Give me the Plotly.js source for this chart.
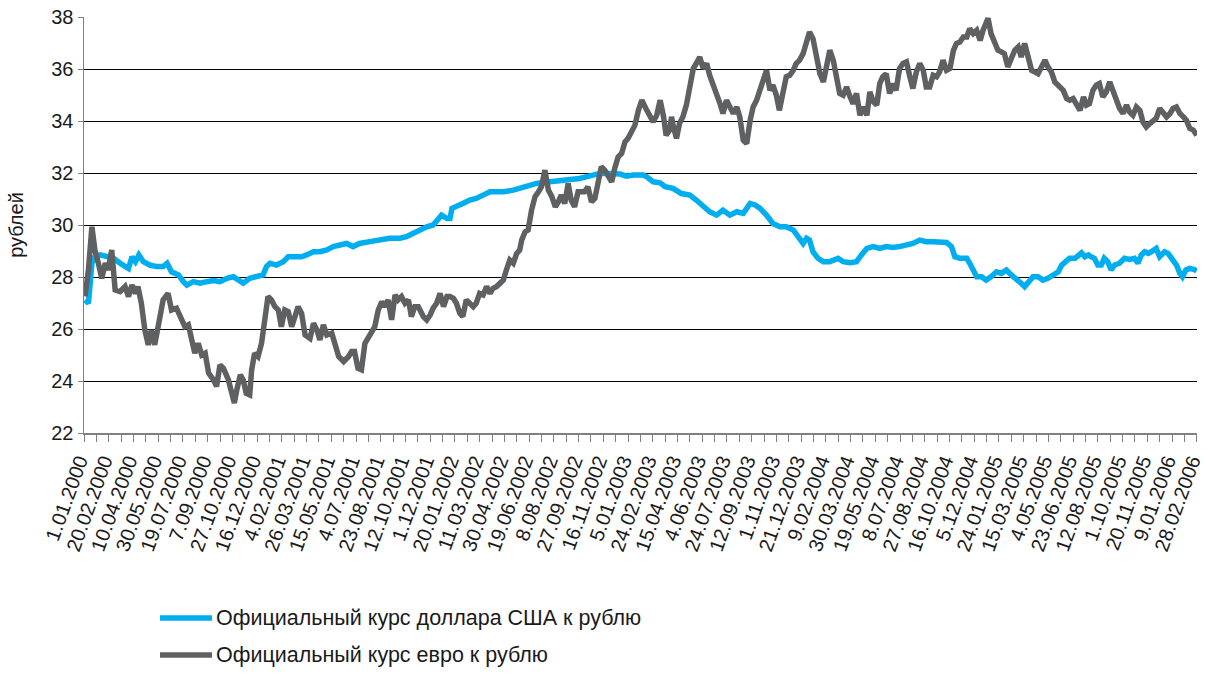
<!DOCTYPE html>
<html>
<head>
<meta charset="utf-8">
<script src="https://cdn.plot.ly/plotly-3.0.1.min.js"></script>
<style>
  html, body { margin: 0; padding: 0; background: #ffffff; }
  #chart { width: 1205px; height: 675px; }
</style>
</head>
<body>
<div id="chart"></div>
<script>
// Days counted from 1.01.2000
const usdDay = [2,9,16,22,33,46,60,73,90,97,104,111,120,133,147,160,168,177,191,201,208,221,235,248,262,275,289,302,312,322,335,349,362,369,376,389,403,413,427,440,450,464,477,491,504,518,531,544,557,578,598,618,639,652,666,679,693,706,717,723,734,740,744,753,766,780,793,807,821,834,848,868,895,915,942,975,1002,1029,1043,1063,1084,1097,1111,1131,1138,1151,1165,1175,1191,1208,1225,1238,1252,1265,1279,1292,1306,1320,1333,1347,1357,1367,1380,1393,1407,1420,1434,1444,1454,1461,1467,1474,1484,1495,1508,1525,1535,1549,1562,1572,1583,1596,1609,1622,1636,1649,1663,1676,1690,1703,1717,1730,1744,1754,1761,1771,1785,1791,1798,1805,1815,1824,1834,1845,1855,1865,1875,1885,1895,1902,1909,1919,1929,1939,1949,1960,1970,1977,1987,1993,2004,2010,2017,2024,2031,2036,2043,2050,2057,2063,2070,2077,2084,2094,2104,2114,2124,2131,2138,2145,2152,2158,2168,2175,2185,2192,2202,2209,2216,2221,2228,2236,2245,2250];
const usdRate = [27.12,26.99,28.53,28.78,28.85,28.81,28.72,28.53,28.33,28.78,28.59,28.85,28.59,28.46,28.40,28.40,28.53,28.20,28.08,27.82,27.69,27.82,27.76,27.82,27.86,27.82,27.95,28.01,27.88,27.76,27.95,28.01,28.08,28.40,28.53,28.46,28.59,28.78,28.76,28.78,28.85,28.97,28.97,29.04,29.17,29.23,29.29,29.17,29.29,29.36,29.42,29.49,29.49,29.55,29.68,29.81,29.93,30.00,30.25,30.38,30.25,30.25,30.64,30.70,30.83,30.96,31.02,31.15,31.28,31.28,31.28,31.34,31.47,31.60,31.66,31.73,31.79,31.92,31.98,31.98,31.96,31.88,31.92,31.92,31.85,31.66,31.62,31.47,31.41,31.21,31.15,30.96,30.70,30.51,30.38,30.57,30.38,30.51,30.45,30.83,30.77,30.64,30.38,30.06,29.93,29.93,29.81,29.55,29.29,29.49,29.42,28.97,28.72,28.59,28.59,28.72,28.59,28.55,28.59,28.85,29.10,29.17,29.10,29.17,29.14,29.17,29.23,29.29,29.42,29.36,29.36,29.33,29.33,29.17,28.78,28.72,28.72,28.53,28.27,28.01,28.01,27.88,28.01,28.20,28.14,28.27,28.08,27.95,27.76,27.63,27.82,28.01,28.01,27.88,27.95,28.08,28.20,28.46,28.59,28.72,28.72,28.85,28.93,28.78,28.85,28.78,28.72,28.46,28.46,28.72,28.59,28.27,28.46,28.53,28.72,28.68,28.72,28.53,28.85,28.97,28.91,28.97,29.10,28.78,28.97,28.91,28.65,28.46,28.14,28.01,28.27,28.33,28.29,28.23];

const eurDay = [2,9,16,22,29,36,43,49,56,63,73,83,90,97,104,109,116,123,130,136,143,150,160,170,177,187,194,204,211,218,224,231,238,245,252,262,268,275,282,292,299,304,309,316,322,328,335,339,345,352,359,366,372,379,386,393,399,406,413,420,427,433,440,447,457,464,471,477,484,491,501,508,515,525,535,541,547,554,561,568,574,581,588,595,602,608,615,622,629,635,642,649,656,662,669,676,686,693,700,706,713,720,727,734,740,747,753,760,766,773,780,787,793,800,807,814,821,827,834,841,848,854,861,868,875,881,885,892,898,905,912,919,925,932,939,946,953,959,965,972,979,985,992,999,1006,1012,1019,1026,1033,1040,1046,1053,1060,1067,1073,1080,1087,1094,1100,1107,1114,1121,1128,1138,1145,1151,1158,1165,1172,1177,1184,1188,1191,1198,1204,1211,1218,1225,1232,1238,1245,1252,1259,1265,1272,1279,1286,1292,1299,1306,1313,1320,1326,1333,1340,1347,1353,1360,1367,1374,1380,1387,1393,1400,1406,1413,1420,1427,1434,1440,1447,1454,1461,1467,1474,1481,1488,1495,1501,1508,1515,1522,1528,1535,1542,1549,1555,1562,1569,1576,1583,1589,1596,1603,1609,1615,1622,1629,1636,1642,1649,1656,1663,1670,1676,1683,1690,1697,1703,1710,1717,1724,1730,1737,1744,1751,1758,1764,1771,1778,1785,1791,1798,1805,1812,1818,1824,1828,1834,1841,1848,1855,1861,1868,1875,1882,1889,1895,1902,1909,1916,1922,1929,1936,1943,1949,1956,1963,1970,1976,1980,1987,1993,2000,2007,2014,2021,2027,2033,2040,2047,2053,2060,2067,2074,2080,2087,2094,2101,2108,2114,2121,2128,2135,2141,2148,2155,2162,2168,2175,2182,2189,2196,2202,2209,2216,2223,2229,2236,2243,2250];
const eurRate = [27.25,28.27,29.93,29.04,28.53,27.95,28.53,28.27,29.04,27.50,27.44,27.63,27.25,27.69,27.37,27.63,26.99,25.96,25.39,25.96,25.39,26.22,27.12,27.37,26.73,26.80,26.48,26.09,26.16,25.58,25.07,25.45,25.00,25.07,24.30,24.04,23.79,24.62,24.49,24.04,23.53,23.15,23.66,24.24,24.04,23.53,23.47,24.43,25.07,24.94,25.45,26.35,27.25,27.12,26.86,26.73,26.09,26.73,26.67,26.09,26.48,26.86,26.60,25.77,25.64,26.22,25.96,25.58,26.16,25.77,25.84,25.45,24.94,24.75,24.94,25.13,25.13,24.49,24.43,25.45,25.64,25.84,26.09,26.73,27.05,26.86,27.12,26.35,27.31,27.12,27.25,26.99,27.12,26.48,26.86,26.86,26.48,26.35,26.54,26.80,26.99,27.37,26.86,27.25,27.25,27.18,26.99,26.60,26.48,27.12,26.99,26.86,26.99,27.37,27.31,27.63,27.37,27.56,27.63,27.76,27.88,28.27,28.65,28.53,28.91,29.04,29.42,29.74,29.81,30.57,31.09,31.28,31.47,32.11,31.34,31.09,30.70,30.89,31.15,30.83,31.60,30.96,30.70,31.28,31.28,31.28,31.47,30.89,31.02,31.73,32.24,32.11,31.92,31.66,32.17,32.62,32.75,33.20,33.33,33.65,33.84,34.41,34.80,34.41,34.16,33.97,34.22,34.80,34.16,33.45,33.65,34.16,33.84,33.33,33.90,34.16,34.61,35.44,36.02,36.21,36.46,36.02,36.21,35.76,35.44,34.99,34.67,34.29,34.80,34.54,34.29,34.54,34.16,33.26,33.13,34.03,34.54,34.80,35.18,35.63,35.95,35.18,35.38,34.99,34.41,35.06,35.70,35.76,35.95,36.21,36.34,36.59,36.98,37.42,37.17,36.46,35.82,35.50,36.21,36.72,36.34,35.70,35.06,34.99,35.31,34.93,34.67,35.06,34.22,34.54,34.22,35.12,34.74,34.61,35.44,35.70,35.82,35.06,35.44,35.18,36.02,36.21,36.27,35.70,35.25,35.89,36.21,35.95,35.31,35.31,35.76,35.70,35.89,36.34,35.95,36.02,36.72,36.98,37.04,37.23,37.23,37.55,37.36,37.49,37.10,37.49,37.87,37.95,37.36,36.98,36.72,36.66,36.59,36.08,36.46,36.72,36.85,36.46,36.98,36.46,35.95,35.89,35.82,36.08,36.34,36.08,35.89,35.50,35.38,35.31,35.18,34.86,34.80,34.86,34.67,34.41,34.93,34.61,34.67,35.18,35.38,35.44,34.93,35.12,35.50,35.18,34.80,34.48,34.29,34.61,34.35,34.22,34.54,34.41,33.97,33.77,33.90,34.03,34.10,34.48,34.35,34.16,34.29,34.48,34.54,34.29,34.16,34.03,33.71,33.65,33.45];

const tickLabels = ["1.01.2000","20.02.2000","10.04.2000","30.05.2000","19.07.2000","7.09.2000","27.10.2000","16.12.2000","4.02.2001","26.03.2001","15.05.2001","4.07.2001","23.08.2001","12.10.2001","1.12.2001","20.01.2002","11.03.2002","30.04.2002","19.06.2002","8.08.2002","27.09.2002","16.11.2002","5.01.2003","24.02.2003","15.04.2003","4.06.2003","24.07.2003","12.09.2003","1.11.2003","21.12.2003","9.02.2004","30.03.2004","19.05.2004","8.07.2004","27.08.2004","16.10.2004","5.12.2004","24.01.2005","15.03.2005","4.05.2005","23.06.2005","12.08.2005","1.10.2005","20.11.2005","9.01.2006","28.02.2006"];

const seriesNames = ["Официальный курс доллара США к рублю", "Официальный курс евро к рублю"];
const seriesColors = ['#00aeef', '#5f6062'];
const yTitle = "рублей";

const DAY = 86400000;
const BASE = Date.UTC(2000, 0, 1);
const toDate = d => new Date(BASE + d * DAY).toISOString().slice(0, 10);
const parseLabel = s => { const p = s.split('.'); return Date.UTC(+p[2], +p[1] - 1, +p[0]); };

// major ticks at labelled dates, unlabelled ticks midway between them
const tickvals = [], ticktext = [];
tickLabels.forEach((lab, i) => {
  const t = parseLabel(lab);
  tickvals.push(new Date(t).toISOString().slice(0, 10)); ticktext.push(lab);
  if (i < tickLabels.length - 1) {
    const mid = (t + parseLabel(tickLabels[i + 1])) / 2;
    tickvals.push(new Date(mid).toISOString().slice(0, 10)); ticktext.push('');
  }
});

const font = "Liberation Sans, Arial, Helvetica, sans-serif";

const traces = [
  {
    x: usdDay.map(toDate), y: usdRate, type: 'scatter', mode: 'lines',
    name: seriesNames[0], line: { color: seriesColors[0], width: 5.5 }
  },
  {
    x: eurDay.map(toDate), y: eurRate, type: 'scatter', mode: 'lines',
    name: seriesNames[1], line: { color: seriesColors[1], width: 5.5 }
  }
];

// legend drawn below the plot: sample line + label (paper coordinates)
const legendRows = [-0.4447, -0.5337];
const shapes = legendRows.map((yy, i) => ({
  type: 'line', xref: 'paper', yref: 'paper',
  x0: 0.0683, x1: 0.1150, y0: yy, y1: yy,
  line: { color: seriesColors[i], width: 5.5 }
}));
const annotations = legendRows.map((yy, i) => ({
  xref: 'paper', yref: 'paper', x: 0.1165, y: yy,
  xanchor: 'left', yanchor: 'middle', showarrow: false,
  text: seriesNames[i],
  font: { family: font, size: 21.5, color: '#1a1a1a' }
}));

const layout = {
  width: 1205, height: 675,
  paper_bgcolor: '#ffffff', plot_bgcolor: '#ffffff',
  margin: { l: 84, r: 8, t: 17, b: 242 },
  font: { family: font, size: 20, color: '#1a1a1a' },
  showlegend: false,
  shapes: shapes,
  annotations: annotations,
  xaxis: {
    type: 'date',
    range: ['2000-01-01', '2006-02-28 12:00'],
    tickmode: 'array', tickvals: tickvals, ticktext: ticktext,
    tickangle: -70,
    ticklabeloverflow: 'allow',
    ticklabelshift: -5,
    ticks: 'outside', ticklen: 7, tickwidth: 1, tickcolor: '#808080',
    showgrid: false, zeroline: false,
    showline: true, linecolor: '#808080', linewidth: 1.5,
    tickfont: { family: font, size: 20, color: '#1a1a1a' }
  },
  yaxis: {
    range: [22, 38],
    tickmode: 'linear', tick0: 22, dtick: 2,
    ticks: 'outside', ticklen: 5, tickcolor: '#808080',
    showgrid: true, gridcolor: '#000000', gridwidth: 1,
    zeroline: false,
    showline: true, linecolor: '#808080', linewidth: 1.5,
    tickfont: { family: font, size: 20, color: '#1a1a1a' },
    title: { text: yTitle, font: { family: font, size: 20, color: '#1a1a1a' }, standoff: 22 }
  }
};

Plotly.newPlot('chart', traces, layout, { displayModeBar: false, staticPlot: true });
</script>
</body>
</html>
